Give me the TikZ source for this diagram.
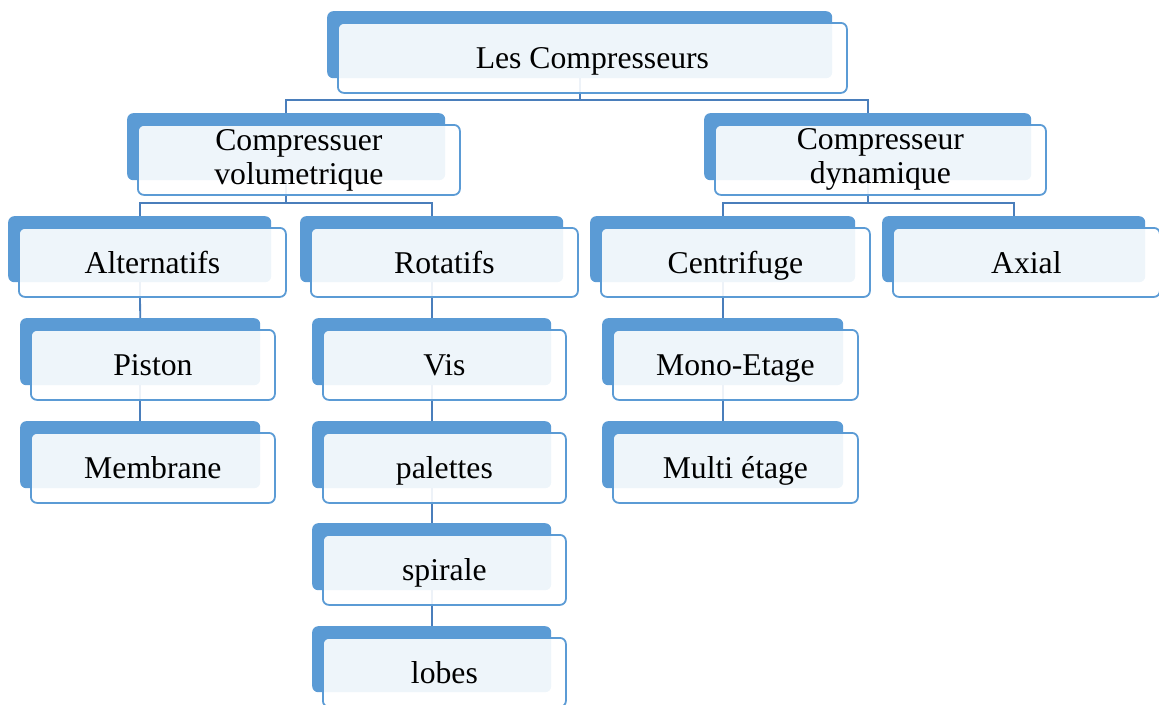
\documentclass[tikz,border=0pt]{standalone}
\usepackage{fontspec}
\setmainfont{Liberation Serif}
\definecolor{accent}{HTML}{5B9BD5}
\definecolor{wirecol}{HTML}{4A7EBB}
\pgfdeclarelayer{background}
\pgfsetlayers{background,main}
\tikzset{
  backbox/.style={fill=accent, draw=none, rounded corners=6pt, inner sep=0pt, anchor=north west},
  frontbox/.style={fill=white, fill opacity=0.9, text opacity=1, draw=accent, line width=1.8pt,
    rounded corners=6pt, inner sep=0pt, anchor=north west, align=center,
    font=\fontsize{31.7}{34}\selectfont},
  oneline/.style={text height=21.5pt, text depth=0pt},
  twoline/.style={},
  wire/.style={draw=wirecol, line width=1.8pt}
}
% \card[opts]{name}{x1}{y1}{x2}{y2}{label}: shaded block behind, outlined card in front
\newcommand\card[7][oneline]{%
  \node[backbox, minimum width={(#5-#3)*1pt}, minimum height={(#6-#4)*1pt}]
    (#2b) at (#3pt,-#4pt) {};
  \node[frontbox, #1, minimum width={(#5-#3+4)*1pt}, minimum height={(#6-#4+3)*1pt}]
    (#2) at ({(#3+10)*1pt},{-(#4+11)*1pt}) {#7};
}
\begin{document}
\begin{tikzpicture}
\useasboundingbox (0,0) rectangle (1159pt,-704pt);
\card{root}{327}{11}{832}{78}{Les Compresseurs}
\card[twoline]{vol}{127}{113}{445}{180}{Compressuer\\volumetrique}
\card[twoline]{dyn}{704}{113}{1031}{180}{Compresseur\\dynamique}
\card{alt}{8}{216}{271}{282}{Alternatifs}
\card{rot}{300}{216}{563}{282}{Rotatifs}
\card{cen}{590}{216}{855}{282}{Centrifuge}
\card{axi}{882}{216}{1145}{282}{Axial}
\card{pis}{20}{318}{260}{385}{Piston}
\card{mem}{20}{421}{260}{488}{Membrane}
\card{vis}{312}{318}{551}{385}{Vis}
\card{pal}{312}{421}{551}{488}{palettes}
\card{spi}{312}{523}{551}{590}{spirale}
\card{lob}{312}{626}{551}{692}{lobes}
\card{mon}{602}{318}{843}{385}{Mono-Etage}
\card{mul}{602}{421}{843}{488}{Multi étage}
\coordinate (bus1) at (0,-100pt);
\coordinate (bus2) at (0,-203pt);
\begin{pgfonlayer}{background}
  \draw[wire] (rootb.center) -- (rootb.center |- bus1) -| (volb.north);
  \draw[wire] (rootb.center |- bus1) -| (dynb.north);
  \draw[wire] (volb.center) -- (volb.center |- bus2) -| (altb.north);
  \draw[wire] (volb.center |- bus2) -| (rotb.north);
  \draw[wire] (dynb.center) -- (dynb.center |- bus2) -| (cenb.north);
  \draw[wire] (dynb.center |- bus2) -| (axib.north);
  \draw[wire] (altb.center) -- (pisb.north);
  \draw[wire] (pisb.center) -- (memb.north);
  \draw[wire] (rotb.center) -- (visb.north);
  \draw[wire] (visb.center) -- (palb.north);
  \draw[wire] (palb.center) -- (spib.north);
  \draw[wire] (spib.center) -- (lobb.north);
  \draw[wire] (cenb.center) -- (monb.north);
  \draw[wire] (monb.center) -- (mulb.north);
\end{pgfonlayer}
\end{tikzpicture}
\end{document}
